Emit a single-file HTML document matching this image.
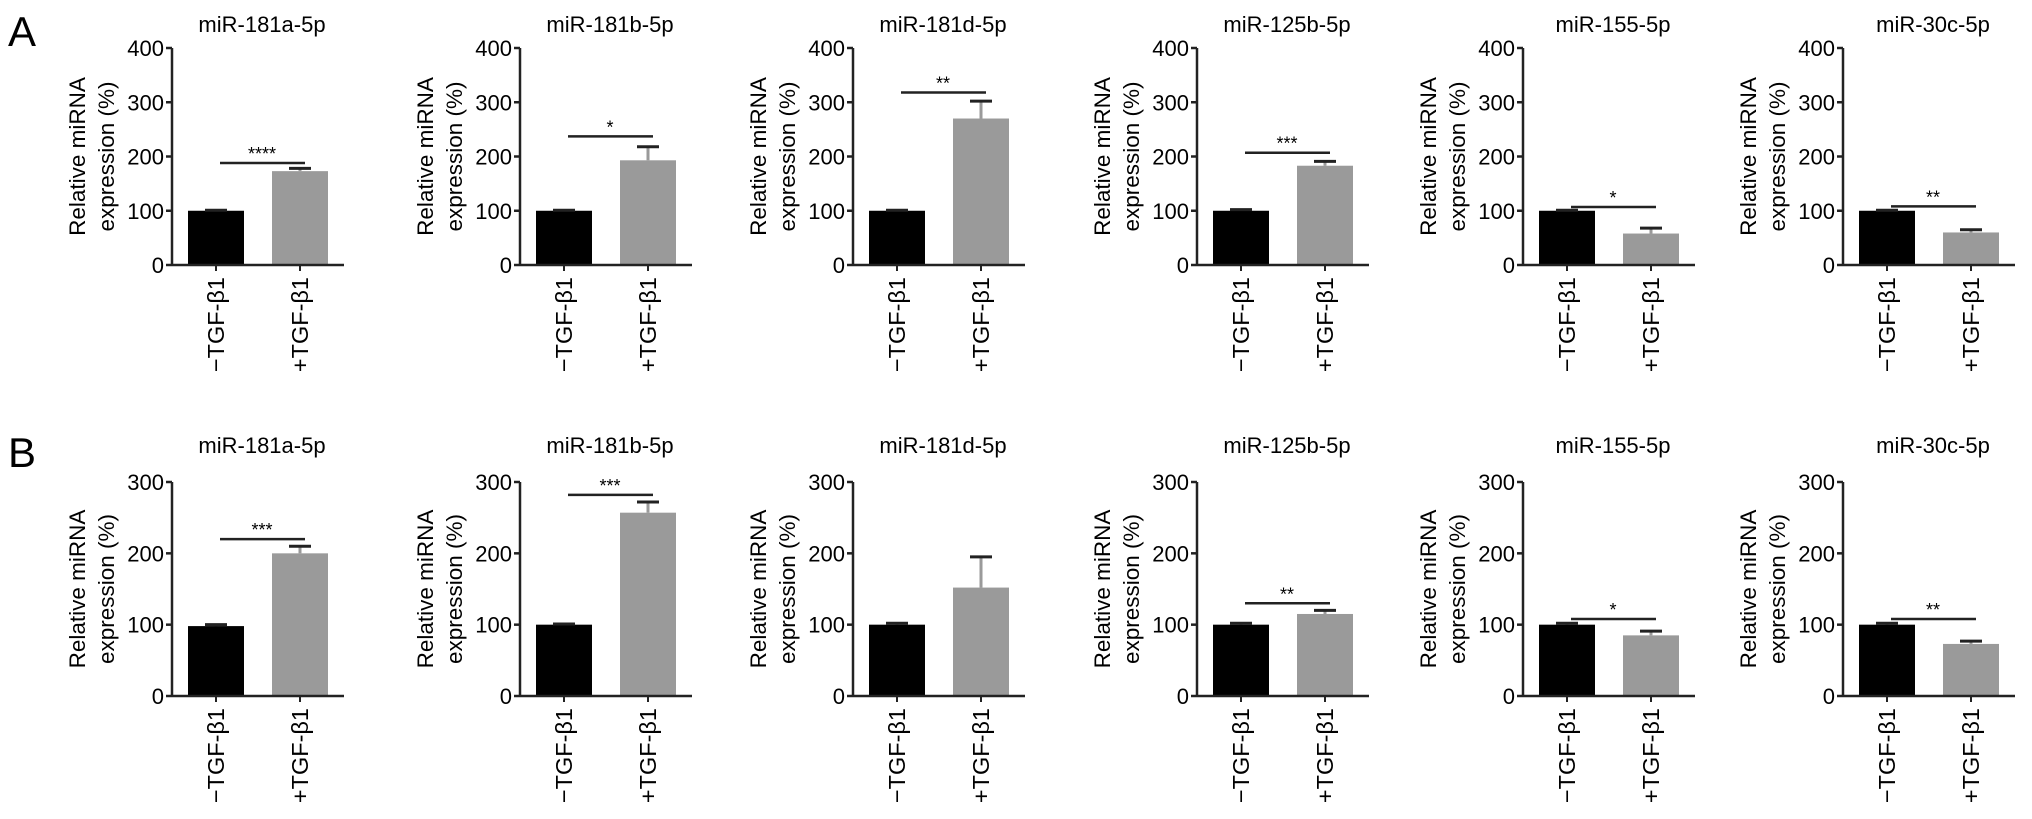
<!DOCTYPE html>
<html><head><meta charset="utf-8">
<style>
html,body{margin:0;padding:0;background:#fff;}
svg{display:block;font-family:"Liberation Sans",Arial,sans-serif;}
</style></head>
<body>
<svg id="fig" width="2032" height="819" viewBox="0 0 2032 819" xmlns="http://www.w3.org/2000/svg">
<text x="8" y="46" font-size="42">A</text>
<text x="8" y="467" font-size="42">B</text>
</svg>
<script>
const titles = ["miR-181a-5p","miR-181b-5p","miR-181d-5p","miR-125b-5p","miR-155-5p","miR-30c-5p"];
const categories = ["\u2212TGF-\u03b21","+TGF-\u03b21"];
const rowAControl = [100,100,100,100,100,100];
const rowAControlErr = [1,1,1,2,1,1];
const rowATreated = [173,193,270,183,58,60];
const rowATreatedErr = [5,25,32,8,10,5];
const rowASigY = [188,237,318,207,107,108];
const rowASig = ["****","*","**","***","*","**"];
const rowATicks = [0,100,200,300,400];
const rowBControl = [98,100,100,100,100,100];
const rowBControlErr = [2,1,2,2,2,2];
const rowBTreated = [200,257,152,115,85,73];
const rowBTreatedErr = [10,15,43,5,6,4];
const rowBSigY = [220,282,null,130,108,108];
const rowBSig = ["***","***","","**","*","**"];
const rowBTicks = [0,100,200,300];

const NS="http://www.w3.org/2000/svg";
const svg=document.getElementById('fig');
const axesX=[172,520,853,1197,1523,1843];
function mk(tag,attrs,parent){const e=document.createElementNS(NS,tag);for(const k in attrs)e.setAttribute(k,attrs[k]);(parent||svg).appendChild(e);return e;}

function panel(row,i,ax,y0,yTop,ymax,ticks,ctrl,ctrlE,trt,trtE,sigY,sig,titleY){
  const g=mk('g',{});
  
  
  const yS=v=>y0-(v/ymax)*(y0-yTop);
  const xS=k=>ax+(k===0?16:100);
  const bw=56;
  const t=mk('text',{x:ax+90,y:titleY,'font-size':22,'text-anchor':'middle'},g);t.textContent=titles[i];
  
  const cy=(y0+yTop)/2;
  const l1=mk('text',{x:0,y:0,'font-size':22.5,'text-anchor':'middle',transform:`translate(${ax-87},${cy}) rotate(-90)`},g);l1.textContent="Relative miRNA";
  
  const l2=mk('text',{x:0,y:0,'font-size':22.5,'text-anchor':'middle',transform:`translate(${ax-58},${cy}) rotate(-90)`},g);l2.textContent="expression (%)";
  
  [[ctrl[i],ctrlE[i],'#000'],[trt[i],trtE[i],'#9a9a9a']].forEach((d,k)=>{
    const x=xS(k);
    const b=mk('rect',{x:x,y:yS(d[0]),width:bw,height:y0-yS(d[0]),fill:d[2]},g);
    
    
    const cx=x+bw/2, ye=yS(d[0]+d[1]);
    const e1=mk('line',{x1:cx,x2:cx,y1:yS(d[0]),y2:ye,stroke:d[2],'stroke-width':3},g);
    
    const e2=mk('line',{x1:cx-11,x2:cx+11,y1:ye,y2:ye,stroke:'#222','stroke-width':3},g);
    
    mk('line',{x1:cx,x2:cx,y1:y0,y2:y0+6,stroke:'#222','stroke-width':2},g);
    const xl=mk('text',{x:0,y:0,'font-size':23.5,'text-anchor':'end',transform:`translate(${cx+8},${y0+12}) rotate(-90)`},g);
    xl.textContent=categories[k];
    
  });
  const ya=mk('line',{x1:ax,x2:ax,y1:yTop,y2:y0,stroke:'#222','stroke-width':2.5},g);
  
  const xa=mk('line',{x1:ax,x2:ax+172,y1:y0,y2:y0,stroke:'#222','stroke-width':2.5},g);
  
  ticks.forEach(v=>{
    const y=yS(v);
    mk('line',{x1:ax-6,x2:ax,y1:y,y2:y,stroke:'#222','stroke-width':2.5},g);
    const tl=mk('text',{x:ax-8,y:y+8,'font-size':22,'text-anchor':'end'},g);tl.textContent=v;
    
  });
  if(sigY[i]!==null){
    const sy=yS(sigY[i]);
    const s=mk('line',{x1:ax+48,x2:ax+133,y1:sy,y2:sy,stroke:'#222','stroke-width':2.5},g);
    
    const st=mk('text',{x:ax+90,y:sy-3,'font-size':18,'text-anchor':'middle'},g);st.textContent=sig[i];
    
  }
}
for(let i=0;i<6;i++){
  panel('a',i,axesX[i],265,48,400,rowATicks,rowAControl,rowAControlErr,rowATreated,rowATreatedErr,rowASigY,rowASig,32);
  panel('b',i,axesX[i],696,482,300,rowBTicks,rowBControl,rowBControlErr,rowBTreated,rowBTreatedErr,rowBSigY,rowBSig,453);
}
</script>
</body></html>
